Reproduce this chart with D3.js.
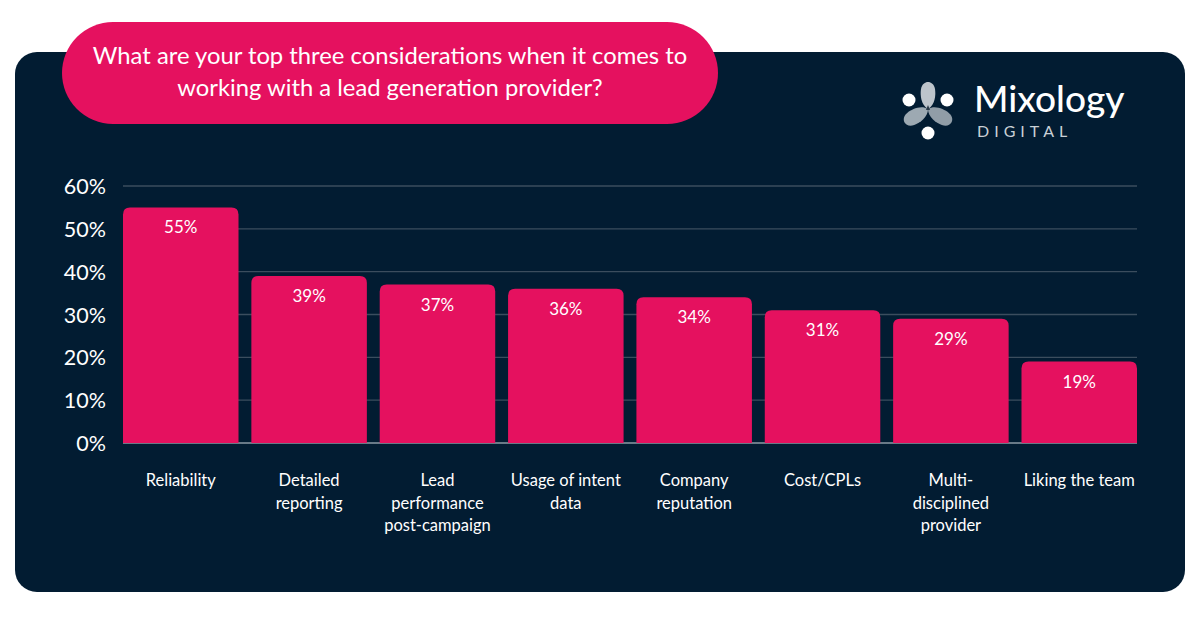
<!DOCTYPE html>
<html><head><meta charset="utf-8">
<script src="https://cdn.jsdelivr.net/npm/d3@7"></script>
<style>body{margin:0;background:#fff}svg{display:block;font-family:Lato,"Open Sans",sans-serif}</style>
</head><body><svg id="c" width="1200" height="630"></svg>
<script>
const categories = ["Reliability","Detailed reporting","Lead performance post-campaign","Usage of intent data","Company reputation","Cost/CPLs","Multi-disciplined provider","Liking the team"];
const labelLines = [["Reliability"],["Detailed","reporting"],["Lead","performance","post-campaign"],["Usage of intent","data"],["Company","reputation"],["Cost/CPLs"],["Multi-","disciplined","provider"],["Liking the team"]];
const values = [55,39,37,36,34,31,29,19];
const yTicks = [0,10,20,30,40,50,60];
const titleLines = ["What are your top three considerations when it comes to","working with a lead generation provider?"];

const PINK = "#e5115f", BG = "#021c32";
const svg = d3.select("#c");
svg.append("rect").attr("x",15).attr("y",52).attr("width",1170).attr("height",540).attr("rx",22).attr("fill",BG);

// title pill
svg.append("rect").attr("x",62).attr("y",22).attr("width",656).attr("height",102).attr("rx",51).attr("fill",PINK);
svg.append("g").selectAll("text").data(titleLines).join("text")
  .attr("x",390).attr("y",(d,i)=>64+i*31.5).attr("text-anchor","middle")
  .attr("fill","#fff").attr("font-size",23.8).text(d=>d);

// logo
const lg = svg.append("g").attr("transform","translate(928,109)");
const lobe = "M0,0 C7,-4 8,-14 7,-20 C6,-25 3,-27 0,-27 C-3,-27 -6,-25 -7,-20 C-8,-14 -7,-4 0,0Z";
[[0,"#c7ced4",0.95],[120,"#aab4bc",0.85],[240,"#b9c2c9",0.85]].forEach(([a,c,o])=>{
  lg.append("path").attr("d",lobe).attr("transform",`rotate(${a})`).attr("fill",c).attr("opacity",o);
});
lg.append("path").attr("d","M0,-4 L2,1 L-2,1Z").attr("fill","#2a3a48");
lg.append("circle").attr("cx",-19).attr("cy",-9).attr("r",6.5).attr("fill","#fff");
lg.append("circle").attr("cx",19).attr("cy",-9).attr("r",6.5).attr("fill","#fff");
lg.append("circle").attr("cx",0).attr("cy",24).attr("r",6.5).attr("fill","#fff");
svg.append("text").attr("x",974).attr("y",112).attr("fill","#fff").attr("font-size",37).attr("font-weight",500).text("Mixology");
svg.append("text").attr("x",977).attr("y",136.5).attr("fill","#c9d0d6").attr("font-size",16).attr("letter-spacing",5).text("DIGITAL");

// chart
const x = d3.scaleBand().domain(categories).range([123,1137]).paddingInner(0.1).paddingOuter(0);
const y = d3.scaleLinear().domain([0,60]).range([443,186]);

const grid = svg.append("g");
grid.selectAll("line").data(yTicks).join("line")
  .attr("x1",123).attr("x2",1137).attr("y1",d=>y(d)).attr("y2",d=>y(d))
  .attr("stroke",d=>d===0?"#8d9aa6":"#3b4d5e").attr("stroke-width",1.3);

const yAxis = d3.axisLeft(y).tickValues(yTicks).tickFormat(d=>d+"%").tickSize(0).tickPadding(0);
const ya = svg.append("g").attr("transform","translate(106,0)").call(yAxis);
ya.select(".domain").remove();
ya.selectAll("text").attr("fill","#fff").attr("font-size",21.5).attr("font-family","Lato,sans-serif").attr("dy","0.35em");

const r = 7;
svg.append("g").selectAll("path").data(values).join("path")
  .attr("fill",PINK)
  .attr("d",(d,i)=>{
    const x0=x(categories[i]), w=x.bandwidth(), t=y(d), b=y(0);
    return `M${x0},${b}V${t+r}Q${x0},${t} ${x0+r},${t}H${x0+w-r}Q${x0+w},${t} ${x0+w},${t+r}V${b}Z`;
  });
svg.append("g").selectAll("text").data(values).join("text")
  .attr("x",(d,i)=>x(categories[i])+x.bandwidth()/2).attr("y",d=>y(d)+26)
  .attr("text-anchor","middle").attr("fill","#fff").attr("font-size",17).text(d=>d+"%");

const xl = svg.append("g").selectAll("text").data(labelLines).join("text")
  .attr("text-anchor","middle").attr("fill","#fff").attr("font-size",16.5);
xl.each(function(lines,i){
  d3.select(this).selectAll("tspan").data(lines).join("tspan")
    .attr("x",x(categories[i])+x.bandwidth()/2).attr("y",(d,j)=>486+j*22.5).text(d=>d);
});
</script></body></html>
